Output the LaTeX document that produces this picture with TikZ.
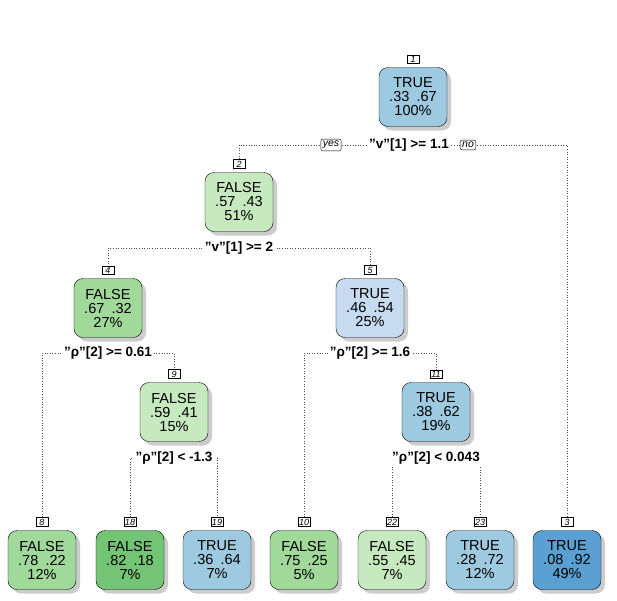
\documentclass[tikz,border=0pt]{standalone}
\usepackage{fontspec}
\setmainfont[Ligatures=ResetAll]{Liberation Sans}
\usetikzlibrary{shadows}
\definecolor{bA}{RGB}{158,202,225}
\definecolor{bB}{RGB}{198,219,239}
\definecolor{bC}{RGB}{90,160,210}
\definecolor{gA}{RGB}{199,233,192}
\definecolor{gB}{RGB}{161,217,155}
\definecolor{gC}{RGB}{116,196,118}
\newcommand{\qq}{{\char34}}
\begin{document}
\begin{tikzpicture}[x=1pt,y=-1pt,
  tnode/.style={draw,rounded corners=9pt,minimum width=68pt,minimum height=59pt,inner sep=0pt,align=center,font=\fontsize{14.5}{16}\selectfont,drop shadow={shadow xshift=4pt,shadow yshift=-4pt,fill=black!40}},
  nlab/.style={draw,fill=white,inner sep=1.2pt,minimum width=12pt,font=\itshape\fontsize{9}{10}\selectfont},
  slab/.style={fill=white,inner sep=2pt,font=\bfseries\fontsize{13.5}{15}\selectfont},
  yn/.style={draw,fill=white,rounded corners=2pt,inner sep=2pt,font=\itshape\fontsize{10.5}{12}\selectfont},
  dl/.style={dotted,black!70,line width=0.6pt}]
\useasboundingbox (0,0) rectangle (617,600);
% connectors
\draw[dl] (239,164) |- (567,145) -- (567,522);
\draw[dl] (108,269) |- (370,248) -- (370,269);
\draw[dl] (42,522) |- (174,353) -- (174,374);
\draw[dl] (304,522) |- (436,353) -- (436,374);
\draw[dl] (130,522) |- (217,458) -- (217,522);
\draw[dl] (392,522) |- (480,458) -- (480,522);
% nodes
\newcommand{\tn}[6]{\node[tnode,fill=#4] (n#1) at (#2,#3) {#5\\[-2pt]#6};\node[nlab] (l#1) at (#2,#3-38) {#1};}
\tn{1}{413}{97}{bA}{TRUE}{.33\enspace.67\\[-2pt]100\%}
\tn{2}{239}{202}{gA}{FALSE}{.57\enspace.43\\[-2pt]51\%}
\tn{4}{108}{308}{gB}{FALSE}{.67\enspace.32\\[-2pt]27\%}
\tn{5}{370}{308}{bB}{TRUE}{.46\enspace.54\\[-2pt]25\%}
\tn{9}{174}{412}{gA}{FALSE}{.59\enspace.41\\[-2pt]15\%}
\tn{11}{436}{412}{bA}{TRUE}{.38\enspace.62\\[-2pt]19\%}
\tn{8}{42}{560}{gB}{FALSE}{.78\enspace.22\\[-2pt]12\%}
\tn{18}{130}{560}{gC}{FALSE}{.82\enspace.18\\[-2pt]7\%}
\tn{19}{217}{560}{bA}{TRUE}{.36\enspace.64\\[-2pt]7\%}
\tn{10}{304}{560}{gB}{FALSE}{.75\enspace.25\\[-2pt]5\%}
\tn{22}{392}{560}{gA}{FALSE}{.55\enspace.45\\[-2pt]7\%}
\tn{23}{480}{560}{bA}{TRUE}{.28\enspace.72\\[-2pt]12\%}
\tn{3}{567}{560}{bC}{TRUE}{.08\enspace.92\\[-2pt]49\%}
% split labels
\node[slab] (s1) at (409,145) {\qq v\qq[1] >= 1.1};
\node[yn] (yes) at (331,145) {yes};
\node[yn] (no) at (468,145) {no};
\node[slab] (s2) at (239,248) {\qq v\qq[1] >= 2};
\node[slab] (s4) at (108,353) {\qq ρ\qq[2] >= 0.61};
\node[slab] (s5) at (370,353) {\qq ρ\qq[2] >= 1.6};
\node[slab] (s9) at (174,458) {\qq ρ\qq[2] < -1.3};
\node[slab] (s11) at (436,458) {\qq ρ\qq[2] < 0.043};
\end{tikzpicture}
\end{document}
